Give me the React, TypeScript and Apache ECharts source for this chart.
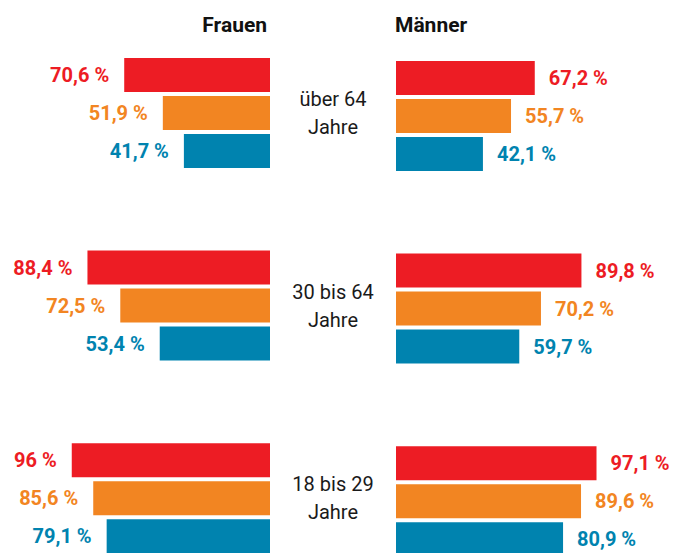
import React, { useEffect, useRef } from "react";
import * as echarts from "echarts";

const ageGroups = ["über 64\nJahre", "30 bis 64\nJahre", "18 bis 29\nJahre"];
const frauenRed = [70.6, 88.4, 96];
const frauenOrange = [51.9, 72.5, 85.6];
const frauenBlue = [41.7, 53.4, 79.1];
const maennerRed = [67.2, 89.8, 97.1];
const maennerOrange = [55.7, 70.2, 89.6];
const maennerBlue = [42.1, 59.7, 80.9];
const panelTitles = ["Frauen", "Männer"];

const RED = "#ED1C24";
const ORANGE = "#F28522";
const BLUE = "#0083AF";
const FONT = "Roboto, 'Liberation Sans', sans-serif";

const fmt = (p: any) => String(p.value).replace(".", ",") + " %";

function makeSeries(data: number[], color: string, idx: number, side: "left" | "right") {
  return {
    type: "bar",
    name: side + idx,
    xAxisIndex: side === "left" ? 0 : 1,
    yAxisIndex: side === "left" ? 0 : 1,
    data,
    barWidth: 34,
    barGap: "11.8%",
    itemStyle: { color },
    label: {
      show: true,
      position: side === "left" ? "left" : "right",
      distance: side === "left" ? 15 : 14,
      formatter: fmt,
      color,
      fontFamily: FONT,
      fontWeight: "bold",
      fontSize: 20,
    },
  };
}

export default function App() {
  const ref = useRef<HTMLDivElement>(null);
  useEffect(() => {
    if (!ref.current) return;
    const chart = echarts.init(ref.current, null, { renderer: "svg" });
    const gridH = 578;
    chart.setOption({
      animation: false,
      backgroundColor: "#ffffff",
      title: [
        {
          text: panelTitles[0],
          right: 405,
          top: 9,
          textStyle: { fontFamily: FONT, fontWeight: "bold", fontSize: 21, color: "#111" },
        },
        {
          text: panelTitles[1],
          left: 390,
          top: 9,
          textStyle: { fontFamily: FONT, fontWeight: "bold", fontSize: 21, color: "#111" },
        },
      ],
      grid: [
        { left: 63.5, width: 206.5, top: 16.6, height: gridH, containLabel: false },
        { left: 396, width: 206.5, top: 19.6, height: gridH, containLabel: false },
      ],
      xAxis: [
        { type: "value", gridIndex: 0, min: 0, max: 100, inverse: true, show: false },
        { type: "value", gridIndex: 1, min: 0, max: 100, show: false },
      ],
      yAxis: [
        {
          type: "category",
          gridIndex: 0,
          data: ageGroups,
          inverse: true,
          position: "right",
          axisLine: { show: false },
          axisTick: { show: false },
          axisLabel: {
            show: true,
            align: "center",
            margin: 63,
            fontFamily: FONT,
            fontSize: 20,
            lineHeight: 28,
            padding: [0, 0, 6, 0],
            color: "#1a1a1a",
          },
        },
        {
          type: "category",
          gridIndex: 1,
          data: ageGroups,
          inverse: true,
          show: false,
        },
      ],
      series: [
        makeSeries(frauenRed, RED, 0, "left"),
        makeSeries(frauenOrange, ORANGE, 1, "left"),
        makeSeries(frauenBlue, BLUE, 2, "left"),
        makeSeries(maennerRed, RED, 0, "right"),
        makeSeries(maennerOrange, ORANGE, 1, "right"),
        makeSeries(maennerBlue, BLUE, 2, "right"),
      ],
    });
    return () => chart.dispose();
  }, []);
  return (
    <div
      ref={ref}
      style={{ position: "fixed", left: 0, top: 0, width: 677, height: 640, background: "#fff" }}
    />
  );
}
